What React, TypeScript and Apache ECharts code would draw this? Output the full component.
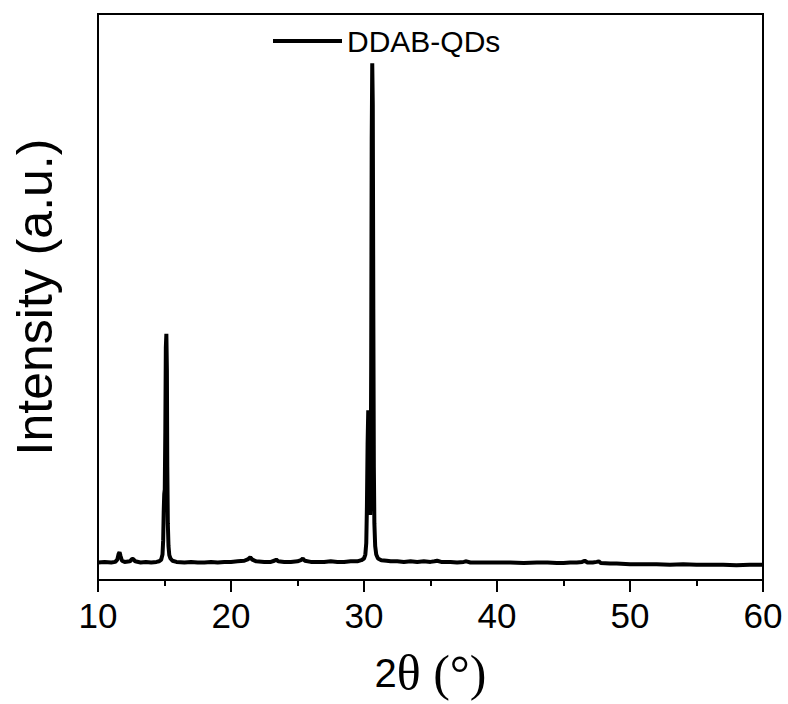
import React, { useEffect, useRef } from "react";
import * as echarts from "echarts";

const seriesName = "DDAB-QDs";
const xTicks = [10, 20, 30, 40, 50, 60];

const twoTheta = [
  10.0, 10.5, 11.0, 11.3, 11.45, 11.55, 11.62, 11.7, 11.8, 12.0, 12.4, 12.55, 12.65, 12.8, 13.2, 13.6, 14.0,
  14.4, 14.6, 14.75, 14.85, 14.9, 14.94, 14.98, 15.02, 15.06, 15.1, 15.14, 15.18, 15.21, 15.25, 15.3, 15.36,
  15.45, 15.6, 15.9, 16.5, 17.0, 17.5, 18.0, 18.5, 19.0, 19.5, 20.0, 20.5, 21.0, 21.3, 21.45, 21.6, 21.9,
  22.5, 23.0, 23.25, 23.4, 23.55, 24.0, 24.5, 25.0, 25.25, 25.4, 25.55, 26.0, 26.5, 27.0, 27.5, 28.0, 28.5,
  29.0, 29.5, 29.8, 30.0, 30.1, 30.17, 30.22, 30.27, 30.32, 30.37, 30.42, 30.46, 30.5, 30.54, 30.58, 30.62,
  30.66, 30.7, 30.74, 30.78, 30.84, 30.92, 31.05, 31.3, 31.7, 32.0, 32.5, 33.0, 33.5, 34.0, 34.5, 35.0,
  35.3, 35.5, 35.8, 36.5, 37.0, 37.5, 37.7, 38.0, 38.5, 39.0, 40.0, 41.0, 42.0, 43.0, 43.8, 44.5, 45.0,
  45.5, 46.0, 46.4, 46.6, 46.8, 47.2, 47.5, 47.65, 47.8, 48.5, 49.0, 50.0, 51.0, 52.0, 53.0, 54.0, 55.0,
  56.0, 57.0, 58.0, 59.0, 60.0,
];

const intensity = [
  31, 32, 31, 32, 36, 46, 49, 42, 34, 32, 33, 37, 37, 33, 31, 32, 31,
  32, 33, 36, 45, 70, 120, 152, 160, 260, 410, 435, 370, 200, 100, 60, 44,
  38, 34, 32, 31, 32, 31, 31, 32, 31, 32, 32, 33, 34, 37, 40, 36, 33,
  32, 32, 34, 36, 33, 32, 32, 33, 35, 38, 34, 32, 32, 32, 33, 32, 32,
  33, 33, 35, 38, 45, 65, 130, 240, 300, 285, 160, 115, 150, 380, 780, 913,
  840, 480, 200, 100, 60, 45, 38, 35, 34, 33, 33, 32, 33, 32, 33, 32,
  33, 34, 32, 32, 31, 32, 33, 31, 31, 31, 31, 31, 30, 31, 31, 30, 30,
  31, 31, 32, 34, 31, 31, 32, 33, 30, 29, 29, 28, 28, 28, 27, 28, 27,
  27, 27, 26, 27, 27,
];

export default function App() {
  const ref = useRef<HTMLDivElement>(null);
  useEffect(() => {
    if (!ref.current) return;
    const chart = echarts.init(ref.current, null, { renderer: "svg" });
    const data = twoTheta.map((x, i) => [x, intensity[i]]);
    chart.setOption({
      animation: false,
      backgroundColor: "#ffffff",
      grid: {
        left: 98,
        right: 25,
        top: 14,
        bottom: 124,
        show: true,
        borderColor: "#000",
        borderWidth: 2,
        backgroundColor: "transparent",
      },
      legend: {
        show: true,
        left: 273,
        top: 26,
        padding: 0,
        itemWidth: 69,
        itemHeight: 4,
        icon: "rect",
        itemStyle: { color: "#000", borderWidth: 0 },
        textStyle: {
          fontFamily: "Liberation Sans, Arial, sans-serif",
          fontSize: 30,
          color: "#000",
          lineHeight: 30,
        },
        data: [{ name: seriesName, icon: "rect" }],
      },
      xAxis: {
        type: "value",
        min: 10,
        max: 60,
        interval: 10,
        name: "{a|2}{b|θ (°)}",
        nameLocation: "middle",
        nameGap: 66,
        nameTextStyle: {
          rich: {
            a: { fontFamily: "Liberation Sans, Arial, sans-serif", fontSize: 40, color: "#000", lineHeight: 54 },
            b: { fontFamily: "Liberation Serif, Times New Roman, serif", fontSize: 50, color: "#000", lineHeight: 54 },
          },
        },
        axisLine: { show: true, onZero: false, lineStyle: { color: "#000", width: 2 } },
        axisTick: { show: true, inside: false, length: 12, lineStyle: { color: "#000", width: 2 } },
        minorTick: { show: true, splitNumber: 2, length: 6, lineStyle: { color: "#000", width: 2 } },
        splitLine: { show: false },
        minorSplitLine: { show: false },
        axisLabel: {
          show: true,
          margin: 18,
          fontFamily: "Liberation Sans, Arial, sans-serif",
          fontSize: 35,
          color: "#000",
          lineHeight: 35,
          formatter: (v: number) => (xTicks.includes(v) ? String(v) : ""),
        },
      },
      yAxis: {
        type: "value",
        min: 0,
        max: 1000,
        name: "Intensity (a.u.)",
        nameLocation: "middle",
        nameRotate: 90,
        nameGap: 38,
        nameTextStyle: {
          fontFamily: "Liberation Sans, Arial, sans-serif",
          fontSize: 50,
          color: "#000",
          lineHeight: 50,
        },
        axisLine: { show: true, lineStyle: { color: "#000", width: 2 } },
        axisTick: { show: false },
        axisLabel: { show: false },
        splitLine: { show: false },
      },
      series: [
        {
          name: seriesName,
          type: "line",
          data,
          showSymbol: false,
          symbol: "none",
          lineStyle: { color: "#000", width: 4 },
          itemStyle: { color: "#000" },
        },
      ],
    });
    return () => chart.dispose();
  }, []);
  return <div ref={ref} style={{ width: 788, height: 704, position: "absolute", left: 0, top: 0 }} />;
}
